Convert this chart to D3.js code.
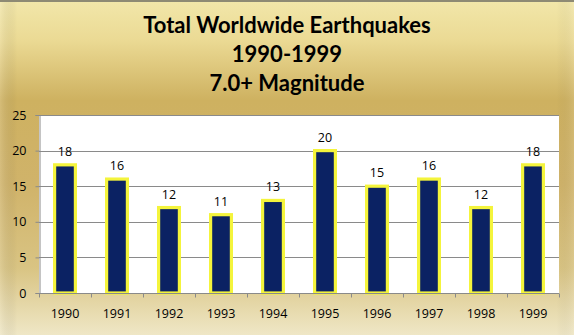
<!DOCTYPE html>
<html>
<head>
<meta charset="utf-8">
<script src="https://cdn.jsdelivr.net/npm/d3@7/dist/d3.min.js"></script>
<style>
  html, body { margin: 0; padding: 0; background: #fff; }
  svg { display: block; }
</style>
</head>
<body>
<svg id="chart" width="574" height="335"></svg>
<script>
// Yearly counts of magnitude 7.0+ earthquakes
const years = ["1990","1991","1992","1993","1994","1995","1996","1997","1998","1999"];
const counts = [18, 16, 12, 11, 13, 20, 15, 16, 12, 18];
const yTicks = [0, 5, 10, 15, 20, 25];
const titleLines = ["Total Worldwide Earthquakes", "1990-1999", "7.0+ Magnitude"];

const W = 574, H = 335;
const plot = { left: 39, right: 559, top: 115, bottom: 293 };

const svg = d3.select("#chart");
const defs = svg.append("defs");

// Gold backdrop gradient
const bg = defs.append("linearGradient").attr("id", "gold")
  .attr("x1", 0).attr("y1", 0).attr("x2", 0).attr("y2", 1);
[["0", "#f2e7aa"], ["0.12", "#ebda94"], ["0.3", "#ceb160"], ["0.55", "#d0b36a"],
 ["0.8", "#d9c483"], ["1", "#efe7c6"]]
  .forEach(([o, c]) => bg.append("stop").attr("offset", o).attr("stop-color", c));

const side = defs.append("linearGradient").attr("id", "sideShade")
  .attr("x1", 0).attr("y1", 0).attr("x2", 1).attr("y2", 0);
[["0", "#ffffff", 0.15], ["0.03", "#000000", 0.0], ["0.5", "#ffffff", 0.0],
 ["0.97", "#000000", 0.0], ["1", "#ffffff", 0.1]]
  .forEach(([o, c, a]) => side.append("stop").attr("offset", o).attr("stop-color", c).attr("stop-opacity", a));

svg.append("rect").attr("width", W).attr("height", H).attr("fill", "url(#gold)");
svg.append("rect").attr("width", W).attr("height", H).attr("fill", "url(#sideShade)");
svg.append("rect").attr("width", W).attr("height", 2).attr("fill", "#8e8a74");

// Title
const title = svg.append("g")
  .attr("font-family", "Lato, 'Open Sans', sans-serif")
  .attr("font-weight", "bold")
  .attr("font-size", 22)
  .attr("fill", "#000")
  .attr("text-anchor", "middle");
const baselines = [33, 62, 91];
titleLines.forEach((t, i) => title.append("text").attr("x", 287).attr("y", baselines[i]).text(t));

// Scales
const x = d3.scaleBand().domain(years).range([plot.left, plot.right]).paddingInner(0.6).paddingOuter(0.3);
const xOuter = d3.scaleBand().domain(years).range([plot.left, plot.right]);
const y = d3.scaleLinear().domain([0, 25]).range([plot.bottom, plot.top]);

// Plot area
svg.append("rect")
  .attr("x", plot.left).attr("y", plot.top)
  .attr("width", plot.right - plot.left).attr("height", plot.bottom - plot.top)
  .attr("fill", "#ffffff");

// Gridlines
svg.append("g").selectAll("line").data(yTicks.filter(d => d > 0)).join("line")
  .attr("x1", plot.left).attr("x2", plot.right)
  .attr("y1", d => Math.round(y(d)) + 0.5).attr("y2", d => Math.round(y(d)) + 0.5)
  .attr("stroke", "#8a8a8a").attr("stroke-width", 1);

// Y axis
const yAxis = svg.append("g")
  .attr("transform", `translate(${plot.left + 0.5},0)`)
  .call(d3.axisLeft(y).tickValues(yTicks).tickSize(4).tickPadding(9));
yAxis.select(".domain").attr("stroke", "#8a8a8a");
yAxis.selectAll(".tick line").attr("stroke", "#8a8a8a");
yAxis.selectAll(".tick text")
  .attr("font-family", "'Open Sans', sans-serif").attr("font-size", 12.5).attr("fill", "#000");

// Bars
svg.append("g").selectAll("rect").data(counts).join("rect")
  .attr("x", (d, i) => x(years[i]))
  .attr("y", d => y(d))
  .attr("width", x.bandwidth())
  .attr("height", d => y(0) - y(d))
  .attr("fill", "#0b2263")
  .attr("stroke", "#f4f43c")
  .attr("stroke-width", 3.2);

// X axis
const xAxisG = svg.append("g").attr("transform", `translate(0,${plot.bottom + 0.5})`);
xAxisG.append("line").attr("x1", plot.left).attr("x2", plot.right)
  .attr("stroke", "#8a8a8a");
const boundaries = years.map(yr => xOuter(yr)).concat([plot.right]);
xAxisG.selectAll("line.tick").data(boundaries).join("line").attr("class", "tick")
  .attr("x1", d => Math.round(d) + 0.5).attr("x2", d => Math.round(d) + 0.5)
  .attr("y1", 0).attr("y2", 4).attr("stroke", "#8a8a8a");
xAxisG.selectAll("text").data(years).join("text")
  .attr("x", d => x(d) + x.bandwidth() / 2)
  .attr("y", 24)
  .attr("text-anchor", "middle")
  .attr("font-family", "'Open Sans', sans-serif").attr("font-size", 12.5).attr("fill", "#000")
  .text(d => d);

// Value labels
svg.append("g").selectAll("text").data(counts).join("text")
  .attr("x", (d, i) => x(years[i]) + x.bandwidth() / 2)
  .attr("y", d => y(d) - 9)
  .attr("text-anchor", "middle")
  .attr("font-family", "'Open Sans', sans-serif").attr("font-size", 12.5).attr("fill", "#000")
  .text(d => d);
</script>
</body>
</html>
